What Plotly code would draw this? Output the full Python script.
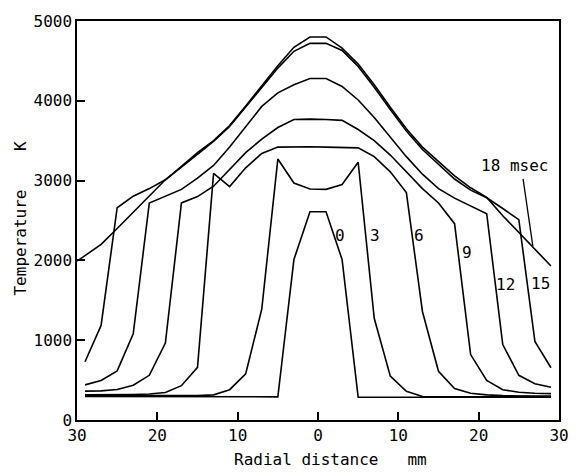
import numpy as np
import plotly.graph_objects as go

# radial positions (mm), sampled at odd millimetres
x = [-29, -27, -25, -23, -21, -19, -17, -15, -13, -11, -9, -7, -5, -3, -1,
     1, 3, 5, 7, 9, 11, 13, 15, 17, 19, 21, 23, 25, 27, 29]
x18 = [-30] + x[1:]

t0 = [295, 295, 295, 295, 295, 295, 295, 295, 295, 295, 295, 295, 290, 2010, 2610,
      2610, 2010, 285, 285, 285, 285, 285, 285, 285, 285, 285, 285, 285, 285, 285]
t3 = [305, 305, 305, 305, 305, 305, 305, 305, 315, 380, 580, 1390, 3270, 2970, 2895,
      2890, 2950, 3230, 1275, 550, 360, 295, 290, 290, 290, 290, 290, 290, 290, 290]
t6 = [315, 315, 318, 320, 325, 345, 430, 660, 3090, 2925, 3160, 3340, 3420, 3425, 3425,
      3420, 3415, 3410, 3300, 3110, 2850, 1360, 610, 395, 335, 315, 305, 300, 300, 300]
t9 = [362, 365, 382, 435, 560, 965, 2720, 2800, 2930, 3140, 3350, 3520, 3665, 3765, 3770,
      3765, 3755, 3640, 3500, 3320, 3110, 2900, 2720, 2460, 820, 495, 380, 348, 335, 330]
t12 = [440, 495, 615, 1080, 2720, 2810, 2890, 3030, 3190, 3420, 3680, 3930, 4100, 4200, 4280,
       4280, 4180, 4010, 3790, 3540, 3300, 3080, 2900, 2780, 2680, 2585, 945, 560, 455, 410]
t15 = [730, 1185, 2660, 2805, 2900, 3010, 3170, 3330, 3490, 3680, 3920, 4170, 4410, 4620, 4720,
       4720, 4630, 4430, 4170, 3890, 3620, 3390, 3200, 3020, 2880, 2785, 2650, 2510, 985, 655]
t18 = [1990, 2200, 2400, 2600, 2800, 3010, 3180, 3350, 3500, 3690, 3935, 4190, 4440, 4670, 4800,
       4800, 4660, 4460, 4200, 3920, 3650, 3420, 3240, 3060, 2910, 2790, 2560, 2350, 2150, 1930]

series = [(x, t0), (x, t3), (x, t6), (x, t9), (x, t12), (x, t15), (x18, t18)]

# curve labels (data coordinates)
label_text = ["0", "3", "6", "9", "12", "15", "18 msec"]
label_x = [2.8, 7.1, 12.6, 18.5, 23.4, 27.7, 24.5]
label_y = [2313, 2306, 2313, 2100, 1700, 1708, 3194]
leader_from = (25.5, 3040)
leader_to_x = 26.75

xtick_vals = [-30, -20, -10, 0, 10, 20, 30]
xtick_text = ["30", "20", "10", "0", "10", "20", "30"]
ytick_vals = [0, 1000, 2000, 3000, 4000, 5000]

FONT = "DejaVu Sans Mono"

fig = go.Figure()
for xs, ys in series:
    fig.add_trace(go.Scatter(x=xs, y=ys, mode="lines",
                             line=dict(color="black", width=1.6),
                             showlegend=False, hoverinfo="skip"))

annotations = []
for t, lx, ly in zip(label_text, label_x, label_y):
    annotations.append(dict(x=lx, y=ly, xref="x", yref="y", text=t, showarrow=False,
                            font=dict(family=FONT, size=16, color="black")))
# leader line to the 18 msec curve
annotations.append(dict(x=leader_to_x, y=float(np.interp(leader_to_x, x18, t18)),
                        xref="x", yref="y", ax=leader_from[0], ay=leader_from[1],
                        axref="x", ayref="y", text="", showarrow=True, arrowhead=0,
                        arrowwidth=1.3, arrowcolor="black"))
annotations.append(dict(x=0.525, y=-0.098, xref="paper", yref="paper",
                        text="Radial distance\u00a0\u00a0\u00a0mm", showarrow=False,
                        xanchor="center", yanchor="middle",
                        font=dict(family=FONT, size=16, color="black")))
annotations.append(dict(x=-0.117, y=0.504, xref="paper", yref="paper",
                        text="Temperature\u00a0\u00a0\u00a0\u00a0K", showarrow=False,
                        textangle=-90, xanchor="center", yanchor="middle",
                        font=dict(family=FONT, size=16, color="black")))

axis_common = dict(showline=True, linecolor="black", linewidth=1.5, mirror=True,
                   ticks="inside", ticklen=8, tickwidth=1.5, tickcolor="black",
                   showgrid=False, zeroline=False,
                   tickfont=dict(family=FONT, size=16, color="black"))

fig.update_layout(
    width=581, height=475,
    margin=dict(l=77, r=18, t=13, b=55),
    paper_bgcolor="white", plot_bgcolor="white",
    xaxis=dict(range=[-30, 30], tickvals=xtick_vals, ticktext=xtick_text, **axis_common),
    yaxis=dict(range=[0, 5000], tickvals=ytick_vals, **axis_common),
    annotations=annotations,
)

fig.write_html("out.html")
